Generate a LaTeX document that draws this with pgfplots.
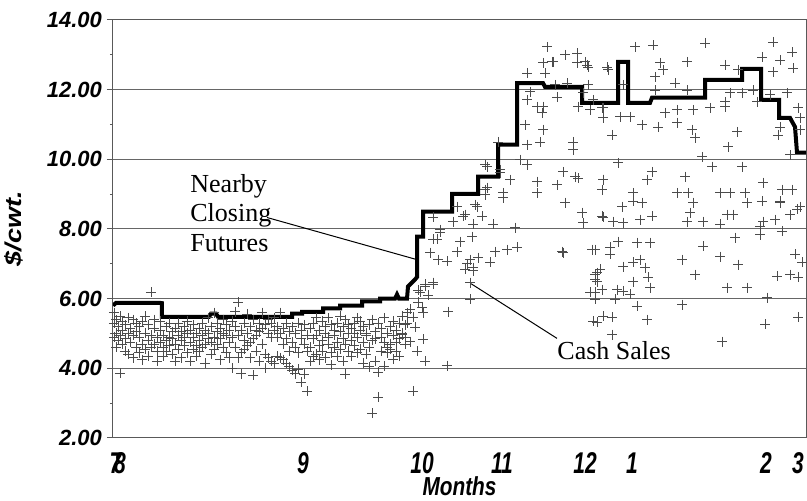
\documentclass[border=0pt]{standalone}
\usepackage{fontspec}
\usepackage{graphicx}
\usepackage{pgfplots}
\pgfplotsset{compat=1.18}
\setmainfont{Liberation Serif}
\newfontfamily\lsans{Liberation Sans}
\newcommand\cond[1]{\scalebox{0.7}[1]{#1}}

% cash sales, x = position along the month axis, y = $/cwt
\pgfplotstableread{
x y
114 5.3
114 4.9
114 5.6
116 5.0
116 4.6
116 5.4
118 5.2
118 4.8
120 3.86
120 5.5
120 4.95
122 5.1
122 4.7
122 5.35
125 4.85
125 5.25
125 4.5
128 5.0
128 4.4
128 5.45
130 4.75
130 5.15
133 4.3
133 4.95
133 5.4
136 5.05
136 4.6
136 5.3
139 4.45
139 4.9
139 5.2
142 4.7
142 5.35
142 4.25
145 5.0
145 4.55
145 5.5
148 4.8
148 5.25
148 4.35
151 6.18
151 4.95
151 4.6
154 5.15
154 4.7
154 5.4
157 4.5
157 4.9
157 4.2
160 5.1
160 4.75
160 5.35
163 4.6
163 4.95
163 4.35
166 5.2
166 4.8
166 4.5
169 4.9
169 5.3
169 4.65
172 5.05
172 4.4
172 4.85
175 4.7
175 5.15
175 4.2
178 4.95
178 4.55
178 5.3
181 4.8
181 5.05
181 4.3
184 5.2
184 4.65
184 4.9
187 4.45
187 5.0
187 5.35
190 4.75
190 4.2
190 5.1
193 4.9
193 5.25
193 4.55
196 4.65
196 5.0
196 4.35
199 5.15
199 4.8
199 4.5
202 4.95
202 5.3
202 4.6
205 4.7
205 5.1
205 4.15
208 5.0
208 4.85
208 5.45
211 4.4
211 5.2
211 4.75
214 5.6
214 4.9
214 4.55
217 5.05
217 4.7
217 5.3
220 4.85
220 4.25
220 5.15
223 4.6
223 5.0
223 5.4
226 4.95
226 4.45
226 5.25
229 4.75
229 5.1
229 4.3
232 5.35
232 4.9
232 4.0
235 4.6
235 5.2
235 5.63
238 4.3
238 4.95
238 5.9
241 3.85
241 4.45
241 5.1
244 4.55
244 5.3
244 4.8
247 4.65
247 5.0
247 5.55
250 4.75
250 5.2
250 4.3
253 4.85
253 5.4
253 3.8
256 4.95
256 5.1
256 4.5
259 5.05
259 5.3
259 4.2
262 5.15
262 4.7
262 5.6
265 4.4
265 5.25
265 4.0
268 4.3
268 5.0
268 5.4
271 4.9
271 4.2
271 5.3
274 4.15
274 5.1
274 5.45
277 4.35
277 4.9
277 5.2
280 4.3
280 5.0
280 5.6
283 4.25
283 5.15
283 4.7
286 4.15
286 4.85
286 5.3
289 4.05
289 5.05
289 4.5
292 3.95
292 5.2
292 4.75
295 3.85
295 4.6
295 5.0
298 3.97
298 4.45
298 5.3
301 3.6
301 4.85
301 5.1
304 3.83
304 4.7
304 5.25
307 3.34
307 4.5
307 4.95
310 5.15
310 4.6
310 4.2
313 4.85
313 5.3
313 4.35
316 4.95
316 4.4
316 5.45
319 5.1
319 4.65
319 4.25
322 4.8
322 5.35
322 4.5
325 5.0
325 4.3
325 5.2
328 4.7
328 5.45
328 4.9
331 5.25
331 4.45
331 4.1
334 4.95
334 5.1
334 4.6
337 5.3
337 4.75
337 4.35
340 5.05
340 4.55
340 5.5
343 4.85
343 5.2
343 4.2
345 3.83
345 5.4
345 4.7
348 5.0
348 4.5
348 5.25
351 5.15
351 4.8
351 4.35
354 4.65
354 5.3
354 5.0
357 4.9
357 5.45
357 4.45
360 5.1
360 4.55
360 5.35
363 4.75
363 5.2
363 4.15
366 4.95
366 4.4
366 5.0
369 4.05
369 4.6
369 5.25
372 2.71
372 4.8
372 5.4
375 4.2
375 5.05
375 4.85
378 3.17
378 3.89
378 5.3
381 4.5
381 5.15
381 4.9
384 4.06
384 4.75
384 5.45
387 4.45
387 5.0
387 4.6
390 4.55
390 5.2
390 4.7
393 4.26
393 4.95
393 5.35
396 4.75
396 4.5
396 5.1
399 5.3
399 4.34
399 4.85
402 5.0
402 4.97
402 5.5
405 4.7
405 5.25
405 4.9
407 5.6
407 5.3
410 5.69
410 4.77
413 3.34
413 5.46
415 5.18
417 4.49
418 5.9
418 6.25
420 6.18
422 5.75
423 4.83
423 5.6
425 4.2
425 6.41
425 6.35
428 6.1
433 6.41
433 6.46
447 4.08
448 5.63
470 5.98
470 6.46
467 7.0
473 6.8
425 6.35
433 6.46
470 6.46
430 7.32
438 7.12
447 7.07
433 7.70
440 7.90
460 7.64
472 7.78
457 7.35
470 7.12
478 7.18
490 7.04
495 7.35
507 7.41
517 7.47
465 6.84
473 6.89
457 8.64
465 8.41
477 8.64
482 8.36
473 8.13
493 8.13
433 8.33
453 8.21
485 9.13
485 8.99
503 9.04
503 8.90
487 9.79
500 9.70
510 9.42
498 10.50
527 10.42
540 10.50
520 9.99
527 9.85
525 10.99
543 10.85
542 11.34
537 11.51
527 11.71
543 11.51
530 11.94
557 11.79
578 11.51
590 11.42
602 11.48
583 11.91
563 9.64
575 9.50
578 9.45
573 10.50
573 10.28
557 9.27
537 9.36
537 9.04
565 8.76
582 8.47
583 8.18
602 8.36
603 9.42
602 9.13
562 7.35
592 7.41
597 6.75
595 6.55
602 6.26
590 6.18
515 8.04
527 12.48
545 12.48
543 12.77
553 12.80
577 12.77
587 12.71
567 12.19
588 12.14
555 12.14
607 12.65
547 13.23
565 13.00
577 13.05
585 12.80
588 12.65
552 12.80
440 7.98
437 7.70
463 8.36
475 8.70
487 9.19
485 9.85
500 9.62
563 7.32
593 5.35
595 5.98
653 13.28
635 13.23
705 13.34
773 13.37
792 13.08
762 12.94
780 12.85
687 12.80
725 12.71
660 12.77
663 12.57
608 12.57
738 12.57
773 12.51
793 12.62
655 12.37
675 12.19
655 11.99
687 11.99
623 12.14
730 11.91
742 11.91
753 11.99
770 11.85
787 11.91
593 11.71
603 11.48
677 11.42
693 11.42
710 11.48
725 11.51
725 11.65
757 11.65
798 11.48
800 11.19
677 11.05
665 11.34
630 11.22
620 11.22
603 11.19
642 10.99
658 10.93
612 10.70
692 10.85
695 10.62
737 10.79
728 10.36
780 10.93
778 10.70
800 10.85
790 10.13
702 10.07
618 9.90
712 9.79
742 9.79
652 9.64
603 9.42
647 9.42
685 9.50
763 9.33
633 9.04
677 9.04
688 9.04
720 9.04
730 9.04
745 9.04
782 9.13
792 9.13
780 8.79
762 8.79
800 8.64
747 8.76
693 8.76
633 8.79
642 8.76
622 8.64
652 8.36
640 8.27
603 8.33
613 8.21
623 8.18
687 8.21
703 8.21
727 8.41
733 8.41
690 8.47
780 8.76
797 8.56
790 8.41
763 8.21
775 8.27
760 8.07
720 8.13
760 7.84
782 7.93
735 7.75
703 7.50
618 7.64
637 7.61
650 7.61
595 7.41
610 7.47
610 7.27
682 7.12
720 7.21
738 6.98
695 6.69
795 7.27
802 7.04
777 6.64
790 6.69
798 6.61
595 6.69
623 6.92
633 7.04
640 7.12
645 6.89
600 6.84
597 6.49
648 6.61
633 6.49
617 6.26
623 6.21
595 6.18
650 6.32
630 6.12
727 6.32
747 6.32
615 5.98
637 5.78
682 5.83
767 6.03
603 5.49
597 5.32
612 5.46
647 5.40
765 5.26
798 5.46
612 4.97
722 4.77
}\cash

% nearby closing futures (step line)
\pgfplotstableread{
x y
113 5.80
116 5.88
160 5.88
162 5.87
162 5.48
209 5.48
211 5.57
216 5.57
218 5.48
292 5.48
292 5.57
302 5.57
302 5.62
323 5.62
323 5.72
340 5.72
340 5.80
362 5.80
362 5.92
380 5.92
380 6.00
395 6.00
397 6.12
399 6.00
407 6.00
408 6.35
415 6.55
417 6.62
417 7.78
423 7.78
423 8.50
452 8.50
452 9.01
478 9.01
478 9.50
498 9.50
498 10.42
517 10.42
517 12.19
543 12.19
545 12.08
582 12.08
582 11.62
618 11.62
618 12.80
628 12.80
628 11.62
650 11.62
652 11.77
705 11.77
705 12.28
742 12.28
742 12.60
761 12.60
761 11.71
779 11.71
779 11.19
790 11.19
795 10.93
796 10.56
797 10.19
806 10.19
}\futures

\begin{document}
\begin{tikzpicture}
\useasboundingbox (-56.5pt,-31.5pt) rectangle (347pt,219pt);
\begin{axis}[
    at={(0,0)}, anchor=south west,
    scale only axis,
    width=346.5pt, height=209pt,
    xmin=113, xmax=806,
    ymin=2, ymax=14,
    axis line style={black!65, line width=0.5pt},
    ytick={2,4,...,14},
    yticklabels={2.00,4.00,6.00,8.00,10.00,12.00,14.00},
    minor ytick={3,5,...,13},
    ytick pos=left,
    tick align=outside,
    major tick length=3pt,
    minor tick length=1.5pt,
    tick style={black!65, line width=0.5pt},
    ymajorgrids,
    major grid style={black!60, line width=0.5pt},
    xtick={115.5,120,303,422,502,585,632,766,798},
    xticklabels={\cond{7},\cond{8},\cond{9},\cond{10},\cond{11},\cond{12},\cond{1},\cond{2},\cond{3}},
    xtick style={draw=none},
    yticklabel style={font=\lsans\bfseries\itshape\fontsize{11}{12}\selectfont, xshift=1pt},
    xticklabel style={font=\lsans\bfseries\itshape\fontsize{15}{16}\selectfont,
        anchor=base, yshift=-15pt},
    xlabel={\scalebox{0.8}[1]{Months}},
    xlabel style={at={(axis description cs:0.5,0)}, anchor=base, yshift=-29pt,
        font=\lsans\bfseries\itshape\fontsize{13}{14}\selectfont},
    ylabel={\scalebox{1}[0.85]{\$/cwt.}},
    ylabel style={at={(axis description cs:-0.1429,0.5)}, anchor=center,
        font=\lsans\bfseries\itshape\fontsize{13.5}{14}\selectfont},
]
\addplot[only marks, mark=+, mark size=2.5pt, black!70,
    mark options={line width=0.4pt}] table[x=x, y=y] {\cash};
\addplot[black, line width=2pt, line join=miter] table[x=x, y=y] {\futures};

\draw[black, line width=0.5pt] (axis cs:267,8.33) -- (axis cs:417,7.12);
\draw[black, line width=0.5pt] (axis cs:471,6.43) -- (axis cs:557,4.86);

\node[anchor=base west, inner sep=0, font=\fontsize{13}{15}\selectfont] at (axis cs:190,9.04) {Nearby};
\node[anchor=base west, inner sep=0, font=\fontsize{13}{15}\selectfont] at (axis cs:190,8.21) {Closing};
\node[anchor=base west, inner sep=0, font=\fontsize{13}{15}\selectfont] at (axis cs:190,7.35) {Futures};
\node[anchor=base west, inner sep=0, font=\fontsize{13}{15}\selectfont] at (axis cs:557,4.26) {Cash Sales};
\end{axis}
\end{tikzpicture}
\end{document}
